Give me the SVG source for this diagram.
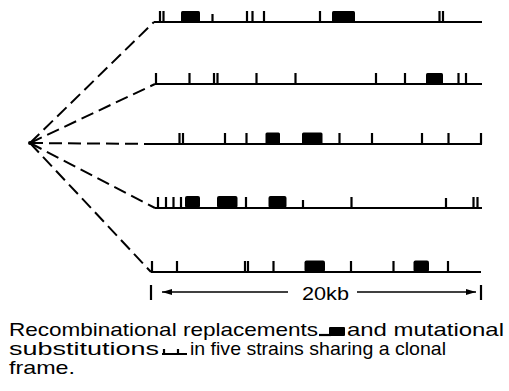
<svg xmlns="http://www.w3.org/2000/svg" width="509" height="391" viewBox="0 0 509 391">
<style>
.base{stroke:#000;stroke-width:2;fill:none}
.tk{stroke:#000;stroke-width:2.2}
.thin{stroke:#000;stroke-width:1.6}
.blk{fill:#000}
.dash{stroke:#000;stroke-width:2;stroke-dasharray:13 6;fill:none}
.txt{font-family:"Liberation Sans",Arial,sans-serif;font-size:18.5px;fill:#000}
</style>
<defs>
<marker id="ah" viewBox="0 0 10 6" refX="10" refY="3" markerWidth="10" markerHeight="6" orient="auto" markerUnits="userSpaceOnUse"><path d="M0,0 L10,3 L0,6 z" fill="#000"/></marker>
</defs>
<g id="connectors">
<line class="dash" x1="30" y1="143" x2="154" y2="22"/>
<line class="dash" x1="30" y1="143" x2="155" y2="84"/>
<line class="dash" x1="30" y1="143" x2="155" y2="144"/>
<line class="dash" x1="30" y1="143" x2="155" y2="208"/>
<line class="dash" x1="30" y1="143" x2="151" y2="272"/>
</g>
<g id="origin"><circle cx="30" cy="143" r="2" fill="#000"/></g>
<g id="strain1">
<line class="base" x1="154" y1="22" x2="482" y2="22"/>
<path class="tk" d="M160,22V11M163.5,22V11M212.5,22V14M247,22V11M252.5,22V11M264,22V11M320,22V11M439.5,22V11M443,22V11"/>
<rect class="blk" x="181" y="11" width="19" height="11" rx="1.5"/>
<rect class="blk" x="332" y="11" width="23" height="11" rx="1.5"/>
</g>
<g id="strain2">
<line class="base" x1="155" y1="84" x2="482" y2="84"/>
<path class="tk" d="M156,84V73M189.5,84V73M214,84V73M217.5,84V73M256.5,84V73M295.5,84V73M376,84V73M405,84V73M458.5,84V73M466,84V73"/>
<rect class="blk" x="426" y="73" width="17" height="11" rx="1.5"/>
</g>
<g id="strain3">
<line class="base" x1="155" y1="144" x2="482" y2="144"/>
<path class="tk" d="M179.5,144V133M183,144V133M225,144V133M246.5,144V133M339.5,144V133M372,144V133M422,144V133M448.5,144V133M481,144V133"/>
<rect class="blk" x="265.5" y="132.5" width="14.5" height="11.5" rx="1.5"/>
<rect class="blk" x="302" y="132.5" width="20.5" height="11.5" rx="1.5"/>
</g>
<g id="strain4">
<line class="base" x1="155" y1="208" x2="482" y2="208"/>
<path class="tk" d="M158,208V197M166,208V197M173.5,208V197M181,208V197M246,208V197M303,208V200M351.5,208V197M446,208V198M473.5,208V197M477.5,208V197"/>
<rect class="blk" x="185" y="196" width="15" height="12" rx="2"/>
<rect class="blk" x="217" y="196" width="20.5" height="12" rx="2"/>
<rect class="blk" x="268.5" y="196" width="18" height="12" rx="2"/>
</g>
<g id="strain5">
<line class="base" x1="151" y1="272" x2="481" y2="272"/>
<path class="tk" d="M152,272V261M177,272V261M245,272V261M248,272V261M273.5,272V261M351,272V261M393.5,272V261M448,272V261"/>
<rect class="blk" x="304.5" y="260.5" width="20.5" height="11.5" rx="2"/>
<rect class="blk" x="413.5" y="260.5" width="15.5" height="11.5" rx="2"/>
</g>
<g id="scale">
<line class="tk" x1="151" y1="285" x2="151" y2="300"/>
<line class="thin" x1="288" y1="292" x2="162" y2="292" marker-end="url(#ah)"/>
<line class="tk" x1="481" y1="285" x2="481" y2="300"/>
<line class="thin" x1="357" y1="292" x2="476" y2="292" marker-end="url(#ah)"/>
<text class="txt" x="302" y="300" font-size="21" textLength="47" lengthAdjust="spacingAndGlyphs">20kb</text>
</g>
<g id="caption">
<text class="txt" x="9" y="336" textLength="309" lengthAdjust="spacingAndGlyphs">Recombinational replacements</text>
<path class="tk" d="M319,335H331"/>
<rect class="blk" x="329" y="327" width="16" height="9" rx="1"/>
<text class="txt" x="347" y="336" textLength="157" lengthAdjust="spacingAndGlyphs">and mutational</text>
<text class="txt" x="9" y="355" textLength="150" lengthAdjust="spacingAndGlyphs">substitutions</text>
<path class="tk" d="M162,354H187M164,354V349M178,354V349"/>
<text class="txt" x="190" y="355" textLength="256" lengthAdjust="spacingAndGlyphs">in five strains sharing a clonal</text>
<text class="txt" x="9" y="374" textLength="66" lengthAdjust="spacingAndGlyphs">frame.</text>
</g>
</svg>
